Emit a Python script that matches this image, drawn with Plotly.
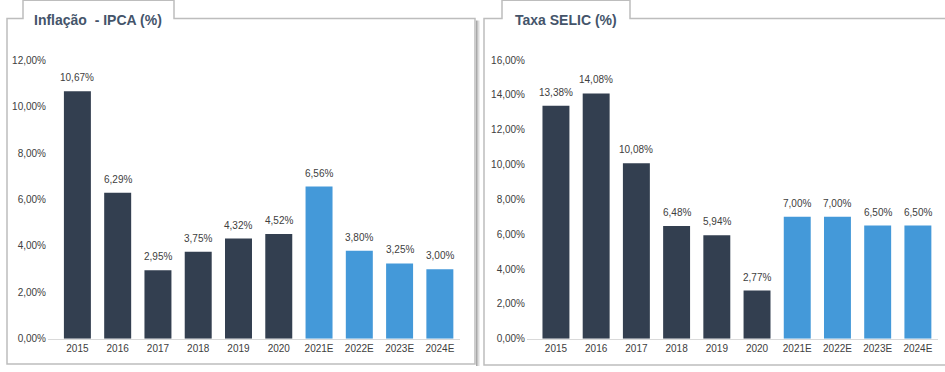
import plotly.graph_objects as go

# ---- data ----
years = ["2015", "2016", "2017", "2018", "2019", "2020", "2021E", "2022E", "2023E", "2024E"]
ipca = [10.67, 6.29, 2.95, 3.75, 4.32, 4.52, 6.56, 3.80, 3.25, 3.00]
selic = [13.38, 14.08, 10.08, 6.48, 5.94, 2.77, 7.00, 7.00, 6.50, 6.50]
is_estimate = [False] * 6 + [True] * 4

ipca_ticks = [0, 2, 4, 6, 8, 10, 12]
selic_ticks = [0, 2, 4, 6, 8, 10, 12, 14, 16]

# ---- style ----
W, H = 945, 372
DARK = "#333f50"
LIGHT = "#4499d9"
FONT = "Arial, Liberation Sans, sans-serif"
TEXT = "#404040"
TITLE = "#44546a"
BORDER = "#bdbdbd"


def px(x):
    return x / W


def py(y):
    return 1 - y / H


def fmt(v):
    return f"{v:.2f}".replace(".", ",") + "%"


colors = [LIGHT if e else DARK for e in is_estimate]

fig = go.Figure()
fig.add_trace(go.Bar(x=years, y=ipca, marker=dict(color=colors, line=dict(width=0)),
                     xaxis="x", yaxis="y", hoverinfo="skip", showlegend=False))
fig.add_trace(go.Bar(x=years, y=selic, marker=dict(color=colors, line=dict(width=0)),
                     xaxis="x2", yaxis="y2", hoverinfo="skip", showlegend=False))

annotations = []
for xa, ya, vals in (("x", "y", ipca), ("x2", "y2", selic)):
    for i, v in enumerate(vals):
        # category axes take the index position for annotations
        annotations.append(dict(x=i, y=v, xref=xa, yref=ya, text=fmt(v),
                                showarrow=False, yanchor="bottom", yshift=6,
                                font=dict(family=FONT, size=10, color=TEXT)))

# panel titles
annotations.append(dict(x=px(32), y=py(15), xref="paper", yref="paper", xanchor="left",
                        yanchor="middle", showarrow=False, text="<b>Inflação\u00a0 - IPCA (%)</b>",
                        font=dict(family=FONT, size=14, color=TITLE)))
annotations.append(dict(x=px(513), y=py(15), xref="paper", yref="paper", xanchor="left",
                        yanchor="middle", showarrow=False, text="<b>Taxa SELIC (%)</b>",
                        font=dict(family=FONT, size=14, color=TITLE)))


def panel_path(left, right, tab_l, tab_r, top, bottom):
    pts = [(left, bottom), (left, top), (tab_l, top), (tab_l, -5), (tab_r, -5),
           (tab_r, top), (right, top), (right, bottom)]
    d = "M " + " L ".join(f"{px(x):.5f},{py(y):.5f}" for x, y in pts) + " Z"
    return d


shapes = [
    dict(type="path", xref="paper", yref="paper", path=panel_path(7, 475, 23, 174, 14, 370),
         line=dict(color=BORDER, width=1.5), layer="below"),
    dict(type="path", xref="paper", yref="paper", path=panel_path(484, 946, 502, 630, 14, 371),
         line=dict(color=BORDER, width=1.5), layer="below"),
]
# soft shadow on the right edge of the first panel
for i, c in enumerate(["#a8a8a8", "#c4c4c4", "#dcdcdc", "#eeeeee"]):
    x = 476.5 + i
    shapes.append(dict(type="line", xref="paper", yref="paper", x0=px(x), x1=px(x),
                       y0=py(16), y1=py(372), line=dict(color=c, width=1)))

axis_common = dict(showgrid=False, zeroline=False, ticks="",
                   tickfont=dict(family=FONT, size=10, color=TEXT), fixedrange=True)

fig.update_layout(
    width=W, height=H,
    margin=dict(l=0, r=0, t=0, b=0),
    paper_bgcolor="white", plot_bgcolor="white",
    bargap=0.33,
    font=dict(family=FONT, size=10, color=TEXT),
    xaxis=dict(type="category", domain=[px(48), px(460)], range=[-0.73, 9.5], anchor="y",
               showline=True, linecolor="#d9d9d9", linewidth=1, **axis_common),
    yaxis=dict(domain=[py(344), py(57)], range=[0, 12], tickvals=ipca_ticks,
               ticktext=[fmt(t) for t in ipca_ticks], anchor="x", showline=False,
               ticklabelstandoff=1, **axis_common),
    xaxis2=dict(type="category", domain=[px(527), px(938)], range=[-0.72, 9.5], anchor="y2",
                showline=True, linecolor="#d9d9d9", linewidth=1, **axis_common),
    yaxis2=dict(domain=[py(344), py(56.7)], range=[0, 16], tickvals=selic_ticks,
                ticktext=[fmt(t) for t in selic_ticks], anchor="x2", showline=False,
                ticklabelstandoff=1, **axis_common),
    annotations=annotations,
    shapes=shapes,
)

fig.write_html("out.html")
